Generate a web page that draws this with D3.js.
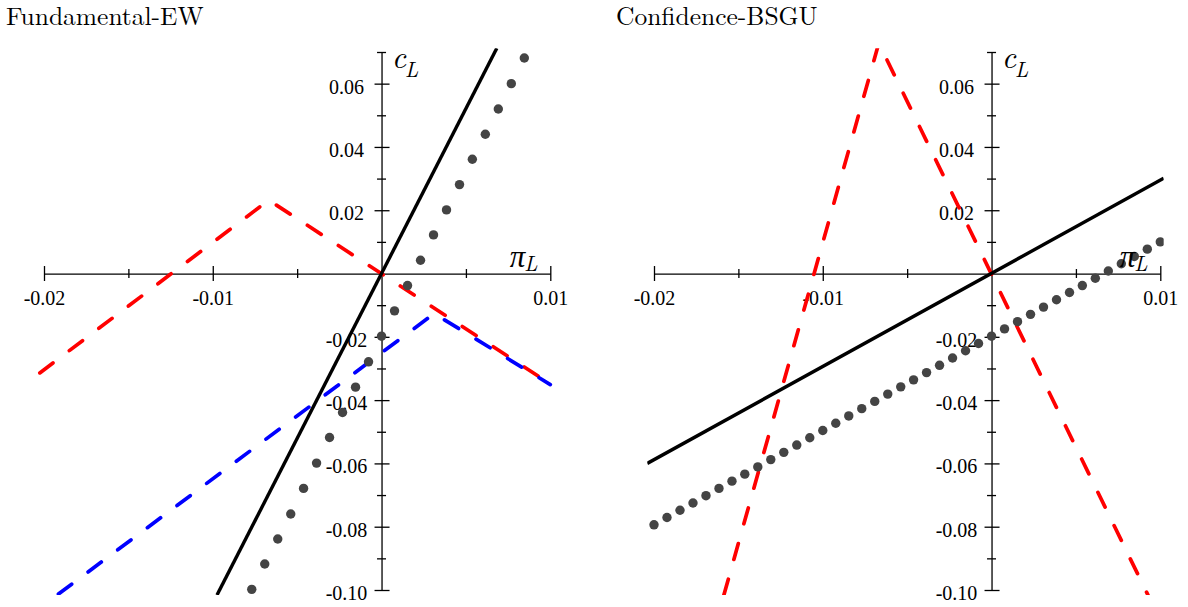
<!DOCTYPE html>
<html>
<head>
<meta charset="utf-8">
<script src="https://cdn.jsdelivr.net/npm/d3@7"></script>
<style>
body { margin: 0; background: #fff; }
</style>
</head>
<body>
<script>
// values: pi_L along x, c_L along y
var titles = ["Fundamental-EW", "Confidence-BSGU"];
var xMajor = [-0.02, -0.01, 0.01];
var xMinor = [-0.015, -0.005, 0.005];
var yMajor = [0.06, 0.04, 0.02, -0.02, -0.04, -0.06, -0.08, -0.10];
var yMinor = [0.07, 0.05, 0.03, 0.01, -0.01, -0.03, -0.05, -0.07, -0.09];

// left panel
var ewSolidX = [-0.00975, 0.00683];
var ewSolidY = [-0.1016, 0.0712];
var ewRedX = [-0.02025, -0.00668, 0.01];
var ewRedY = [-0.0314, 0.0232, -0.0349];
var ewBlueX = [-0.0192, 0.00312, 0.01];
var ewBlueY = [-0.1015, -0.01264, -0.0351];
var ewDotsX = [-0.00769, -0.00692, -0.00615, -0.00538, -0.00462, -0.00385, -0.00308, -0.00231,
	-0.00154, -0.00077, 0.0, 0.00077, 0.00154, 0.00231, 0.00308, 0.00385, 0.00462, 0.00538,
	0.00615, 0.00692, 0.00769, 0.00846];
var ewDotsY = [-0.0998, -0.0918, -0.0839, -0.0760, -0.0679, -0.0599, -0.0518, -0.0439,
	-0.0359, -0.0279, -0.0198, -0.0118, -0.0038, 0.0042, 0.0122, 0.0201, 0.0281, 0.0361,
	0.0440, 0.0520, 0.0600, 0.0681];

// right panel
var bsSolidX = [-0.0204, 0.0102];
var bsSolidY = [-0.0600, 0.0301];
var bsRedX = [-0.01586, -0.00668, 0.00927];
var bsRedY = [-0.1016, 0.0728, -0.1016];
var bsDotsX = [-0.02, -0.01923, -0.01846, -0.01769, -0.01692, -0.01615, -0.01538, -0.01462,
	-0.01385, -0.01308, -0.01231, -0.01154, -0.01077, -0.01, -0.00923, -0.00846, -0.00769,
	-0.00692, -0.00615, -0.00538, -0.00462, -0.00385, -0.00308, -0.00231, -0.00154, -0.00077,
	0.0, 0.00077, 0.00154, 0.00231, 0.00308, 0.00385, 0.00462, 0.00538, 0.00615, 0.00692,
	0.00769, 0.00846, 0.00923, 0.01];
var bsDotsY = [-0.0794, -0.0771, -0.0748, -0.0725, -0.0702, -0.0679, -0.0656, -0.0634,
	-0.0611, -0.0588, -0.0565, -0.0542, -0.0519, -0.0496, -0.0473, -0.0450, -0.0427,
	-0.0404, -0.0381, -0.0358, -0.0336, -0.0313, -0.0290, -0.0267, -0.0244, -0.0221,
	-0.0198, -0.0175, -0.0152, -0.0129, -0.0106, -0.0083, -0.0060, -0.0038, -0.0015,
	0.0008, 0.0031, 0.0054, 0.0077, 0.0100];

var times = "'Liberation Serif', 'Times New Roman', serif";
var cm = "'Latin Modern Roman', 'Liberation Serif', serif";
var dash = [16.5, 20.5];

function pts(xs, ys) {
	return xs.map(function (d, i) { return [d, ys[i]]; });
}

var panels = [
	{ title: titles[0], dx: 0,
		red: pts(ewRedX, ewRedY), blue: pts(ewBlueX, ewBlueY),
		solid: pts(ewSolidX, ewSolidY), dots: pts(ewDotsX, ewDotsY) },
	{ title: titles[1], dx: 610,
		red: pts(bsRedX, bsRedY), blue: null,
		solid: pts(bsSolidX, bsSolidY), dots: pts(bsDotsX, bsDotsY) }
];

var svg = d3.select("body").append("svg")
	.attr("width", 1188)
	.attr("height", 607);

var xs = d3.scaleLinear().domain([-0.02, 0.01]).range([44, 550.3]);
var ys = d3.scaleLinear().domain([-0.10, 0.07]).range([590, 52]);
var fmt = function (d) { return d.toFixed(2); };

var line = d3.line()
	.x(function (d) { return xs(d[0]); })
	.y(function (d) { return ys(d[1]); });

// on-screen length of a polyline, first n points
function plen(a, n) {
	var s = 0;
	for (var i = 1; i < n; i++)
		s += Math.hypot(xs(a[i][0]) - xs(a[i-1][0]), ys(a[i][1]) - ys(a[i-1][1]));
	return s;
}

panels.forEach(function (p, k) {
	var g = svg.append("g").attr("transform", "translate(" + p.dx + ",0)");

	g.append("text")
		.attr("x", 6)
		.attr("y", 25)
		.attr("font-size", 25.5)
		.style("font-family", cm)
		.text(p.title);

	// horizontal axis through c_L = 0
	var xax = g.append("g")
		.attr("transform", "translate(0," + ys(0) + ")")
		.call(d3.axisBottom(xs).tickValues(xMajor).tickFormat(fmt).tickSizeOuter(0));
	xax.selectAll(".tick line").attr("y1", -7.5).attr("y2", 7.5);
	xax.selectAll(".tick text").attr("y", 31).attr("dy", 0).attr("font-size", 20);
	var xmin = g.append("g")
		.attr("transform", "translate(0," + ys(0) + ")")
		.call(d3.axisBottom(xs).tickValues(xMinor).tickFormat("").tickSizeOuter(0));
	xmin.select(".domain").remove();
	xmin.selectAll(".tick line").attr("y1", -4.5).attr("y2", 4.5);

	// vertical axis through pi_L = 0
	var yax = g.append("g")
		.attr("transform", "translate(" + xs(0) + ",0)")
		.call(d3.axisLeft(ys).tickValues(yMajor).tickFormat(fmt).tickSizeOuter(0));
	yax.selectAll(".tick line").attr("x1", -7).attr("x2", 8);
	yax.selectAll(".tick text").attr("x", -35).attr("dy", 0).attr("y", 9.5)
		.attr("text-anchor", "middle").attr("font-size", 20);
	var ymin = g.append("g")
		.attr("transform", "translate(" + xs(0) + ",0)")
		.call(d3.axisLeft(ys).tickValues(yMinor).tickFormat("").tickSizeOuter(0));
	ymin.select(".domain").remove();
	ymin.selectAll(".tick line").attr("x1", -4.5).attr("x2", 4.5);

	g.selectAll(".tick text").style("font-family", times).attr("fill", "#000");
	g.selectAll(".domain, .tick line").attr("stroke", "#000").attr("stroke-width", 1.3);

	// clipped plot area
	var cid = "clip" + k;
	g.append("clipPath").attr("id", cid)
		.append("rect")
		.attr("x", xs(-0.0204))
		.attr("y", ys(0.0712))
		.attr("width", xs(0.0102) - xs(-0.0204))
		.attr("height", ys(-0.1016) - ys(0.0712));
	var plot = g.append("g").attr("clip-path", "url(#" + cid + ")");

	plot.append("path")
		.attr("d", line(p.red))
		.attr("fill", "none")
		.attr("stroke", "#ff0000")
		.attr("stroke-width", 3.7)
		.attr("stroke-linecap", "round")
		.attr("stroke-dasharray", dash.join(" "));

	if (p.blue) {
		// shift the blue dashes so they fall in the red gaps where the two run together
		var kink = p.blue[1];
		var lr = plen(p.red, 2) + Math.hypot(xs(kink[0]) - xs(p.red[1][0]), ys(kink[1]) - ys(p.red[1][1]));
		var lb = plen(p.blue, 2);
		var period = dash[0] + dash[1];
		plot.append("path")
			.attr("d", line(p.blue))
			.attr("fill", "none")
			.attr("stroke", "#0000ff")
			.attr("stroke-width", 3.7)
			.attr("stroke-linecap", "round")
			.attr("stroke-dasharray", dash.join(" "))
			.attr("stroke-dashoffset", ((lr - lb - period / 2) % period + period) % period);
	}

	plot.append("path")
		.attr("d", line(p.solid))
		.attr("fill", "none")
		.attr("stroke", "#000")
		.attr("stroke-width", 3.4);

	plot.selectAll("circle")
		.data(p.dots)
		.enter().append("circle")
			.attr("cx", function (d) { return xs(d[0]); })
			.attr("cy", function (d) { return ys(d[1]); })
			.attr("r", 4.7)
			.attr("fill", "#444");

	// axis names, subscript as a tspan
	var pi = g.append("text")
		.attr("x", xs(0.0076)).attr("y", 267)
		.style("font-family", cm).style("font-style", "italic");
	pi.append("tspan").attr("font-size", 31).text("\u03c0");
	pi.append("tspan").attr("font-size", 21).attr("dx", -1).attr("dy", 4).text("L");

	var cl = g.append("text")
		.attr("x", xs(0.0006)).attr("y", 68)
		.style("font-family", cm).style("font-style", "italic");
	cl.append("tspan").attr("font-size", 31).text("c");
	cl.append("tspan").attr("font-size", 21).attr("dx", -1).attr("dy", 9).text("L");
});
</script>
</body>
</html>
